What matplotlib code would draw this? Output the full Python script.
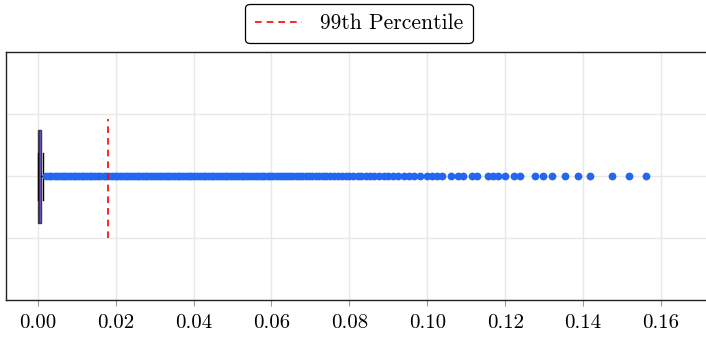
import numpy as np
import matplotlib
matplotlib.use("Agg")
import matplotlib.pyplot as plt

plt.rcParams['font.family'] = ['cmr10', 'DejaVu Serif']
plt.rcParams['axes.formatter.use_mathtext'] = True
plt.rcParams['mathtext.fontset'] = 'cm'

# box statistics
q1 = 0.0
med = 0.0002
q3 = 0.0007
whis_lo = 0.0
whis_hi = 0.0014
p99 = 0.0180

# outliers
fliers = [
    0.0022, 0.0028, 0.0035, 0.0043, 0.0049, 0.0056, 0.0064, 0.0071, 0.0077, 0.0085,
    0.0092, 0.0098, 0.0106, 0.0113, 0.0119, 0.0127, 0.0134, 0.0140, 0.0148, 0.0155,
    0.0161, 0.0169, 0.0176, 0.0183, 0.0190, 0.0197, 0.0204, 0.0211, 0.0218, 0.0226,
    0.0232, 0.0239, 0.0247, 0.0254, 0.0260, 0.0268, 0.0275, 0.0281, 0.0289, 0.0296,
    0.0303, 0.0310, 0.0317, 0.0324, 0.0331, 0.0338, 0.0345, 0.0352, 0.0360, 0.0366,
    0.0373, 0.0381, 0.0388, 0.0394, 0.0402, 0.0409, 0.0416, 0.0423, 0.0430, 0.0437,
    0.0444, 0.0451, 0.0458, 0.0466, 0.0473, 0.0480, 0.0487, 0.0494, 0.0501, 0.0509,
    0.0516, 0.0523, 0.0530, 0.0538, 0.0545, 0.0552, 0.0560, 0.0567, 0.0575, 0.0582,
    0.0590, 0.0597, 0.0605, 0.0613, 0.0621, 0.0629, 0.0637, 0.0645, 0.0653, 0.0662,
    0.0670, 0.0679, 0.0688, 0.0696, 0.0705, 0.0714, 0.0723, 0.0732, 0.0741, 0.0751,
    0.0760, 0.0770, 0.0780, 0.0790, 0.0800, 0.0810, 0.0821, 0.0831, 0.0842, 0.0853,
    0.0864, 0.0876, 0.0888, 0.0900, 0.0913, 0.0926, 0.0939, 0.0952, 0.0965,
    0.0981, 0.0998, 0.1011, 0.1024, 0.1037, 0.1060, 0.1080, 0.1092, 0.1116, 0.1128,
    0.1157, 0.1169, 0.1182, 0.1199, 0.1223, 0.1238, 0.1276, 0.1298, 0.1321, 0.1354,
    0.1386, 0.1418, 0.1475, 0.1519, 0.1561,
]

xticks = [0.00, 0.02, 0.04, 0.06, 0.08, 0.10, 0.12, 0.14, 0.16]

fig = plt.figure(figsize=(7.06, 3.38), dpi=100)
ax = fig.add_axes([0.0085, 0.111, 0.9915, 0.734])

stats = [dict(med=med, q1=q1, q3=q3, whislo=whis_lo, whishi=whis_hi, fliers=fliers)]
ax.bxp(stats, positions=[0], widths=1.5, vert=False, patch_artist=True,
       boxprops=dict(facecolor='#8a5cf0', edgecolor='#3a3a4a', linewidth=1.0),
       medianprops=dict(color='#3a3a4a', linewidth=1.0),
       whiskerprops=dict(color='black', linewidth=1.0),
       capprops=dict(color='black', linewidth=1.0),
       flierprops=dict(marker='o', markersize=4.6, markerfacecolor='#2266f2',
                       markeredgecolor='#2266f2', linestyle='none'),
       zorder=3)

ax.axvline(p99, ymin=0.25, ymax=0.73, color='red', linestyle='--', linewidth=1.2,
           dashes=(4, 3), label='99th Percentile', zorder=4)

ax.set_xlim(-0.00816, 0.17155)
ax.set_ylim(-2, 2)
ax.set_xticks(xticks)
ax.set_xticklabels([f"{t:.2f}" for t in xticks])
ax.set_yticks([-1, 0, 1])
ax.set_yticklabels([])
ax.tick_params(axis='y', length=0)
ax.tick_params(axis='x', length=4, color='#999999', labelsize=15, pad=6)
ax.grid(True, color='#e8e8e8', linewidth=1.0, zorder=0)
ax.set_axisbelow(True)

for side in ['left', 'top', 'bottom']:
    ax.spines[side].set_color('#222222')
    ax.spines[side].set_linewidth(1.0)
ax.spines['right'].set_visible(False)

leg = fig.legend(loc='upper center', bbox_to_anchor=(359 / 706, 1 - 4 / 338),
                 borderaxespad=0, fontsize=15.5, frameon=True, fancybox=True,
                 framealpha=1, edgecolor='black', handlelength=2.2, borderpad=0.45)
leg.get_frame().set_linewidth(0.9)

fig.savefig('out.png', dpi=100)
